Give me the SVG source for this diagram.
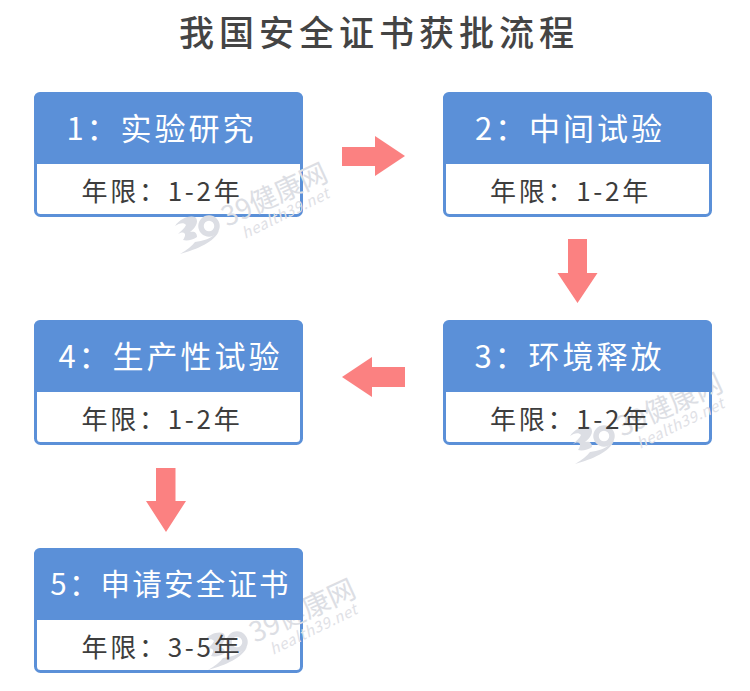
<svg xmlns="http://www.w3.org/2000/svg" width="750" height="691" viewBox="0 0 750 691">
<style>
text{font-family:"Noto Sans CJK SC","Noto Sans",sans-serif}
.t{font-size:35px;fill:#444;text-anchor:middle;letter-spacing:5px;font-weight:500}
.h{font-size:31px;fill:#fff;text-anchor:middle;letter-spacing:3px}
.h5{font-size:29.500px;letter-spacing:2.200px}
.s{font-size:26px;fill:#3d3d3d;text-anchor:middle;letter-spacing:2.700px}
.b{fill:#fff;stroke:#5b90d8;stroke-width:3}
.f{fill:#5b90d8}
.a{fill:#fb8181}
.w1{font-size:27.500px;fill:#dcdee4}
.w2{font-size:15px;fill:#dfe1e6;font-style:italic;letter-spacing:.6px}
.lg{fill:#dcdee4}
.ring{fill:none;stroke:#dcdee4;stroke-width:5.500}
</style>
<defs>
<rect id="box" class="b" x="35.500" y="94" width="266" height="121.500" rx="5"/>
<path id="head" class="f" d="M34 164V98a6 6 0 0 1 6-6H297a6 6 0 0 1 6 6V164Z"/>
<g id="wm">
<path class="lg" d="M175 226C180 218 190 215 195 217C199 220 197 227 190 232C195 231 197 233 197 237C193 240 187 241 183 240C185 237 186 234 184 233C182 232 180 233 178 234C181 231 185 228 186 225C184 222 179 223 175 226Z"/>
<circle class="ring" cx="209" cy="226" r="8"/>
<path class="lg" d="M215 234L219 231C214 242 198 249 180 254C187 250 192 246 195 242C203 241 210 239 215 234Z"/>
<g transform="rotate(-24.500 227 227)"><text class="w1" x="227" y="227">39健康网</text></g>
<g transform="rotate(-26 245 239)"><text class="w2" x="245" y="239">health39.net</text></g>
</g>
</defs>
<text class="t" x="379" y="46">我国安全证书获批流程</text>
<g id="connectors">
<path class="a" d="M342 147H375V136L405 156L375 176V166H342Z"/>
<path class="a" d="M568 239H587V273H597.500L577.500 303L557.500 273H568Z"/>
<path class="a" d="M405 367H372V357L342 377L372 397V387H405Z"/>
<path class="a" d="M156 468H175.500V501H186L166 532L146 501H156Z"/>
</g>
<g id="node1"><use href="#box"/><use href="#wm"/><use href="#head"/><text class="h" x="161.500" y="140">1：实验研究</text><text class="s" x="162" y="201">年限：1-2年</text></g>
<g id="node2"><use href="#box" x="409"/><use href="#head" x="409"/><text class="h" x="570" y="140">2：中间试验</text><text class="s" x="570.500" y="201">年限：1-2年</text></g>
<g id="node3"><use href="#box" x="409" y="228"/><use href="#wm" x="395" y="210"/><use href="#head" x="409" y="228"/><text class="h" x="569.500" y="368">3：环境释放</text><text class="s" x="570.500" y="429">年限：1-2年</text></g>
<g id="node4"><use href="#box" y="228"/><use href="#head" y="228"/><text class="h" x="170.500" y="368">4：生产性试验</text><text class="s" x="162" y="429">年限：1-2年</text></g>
<g id="node5"><use href="#box" y="456"/><use href="#wm" x="28" y="416"/><use href="#head" y="456"/><text class="h h5" x="170.600" y="595">5：申请安全证书</text><text class="s" x="162" y="657">年限：3-5年</text></g>
</svg>
